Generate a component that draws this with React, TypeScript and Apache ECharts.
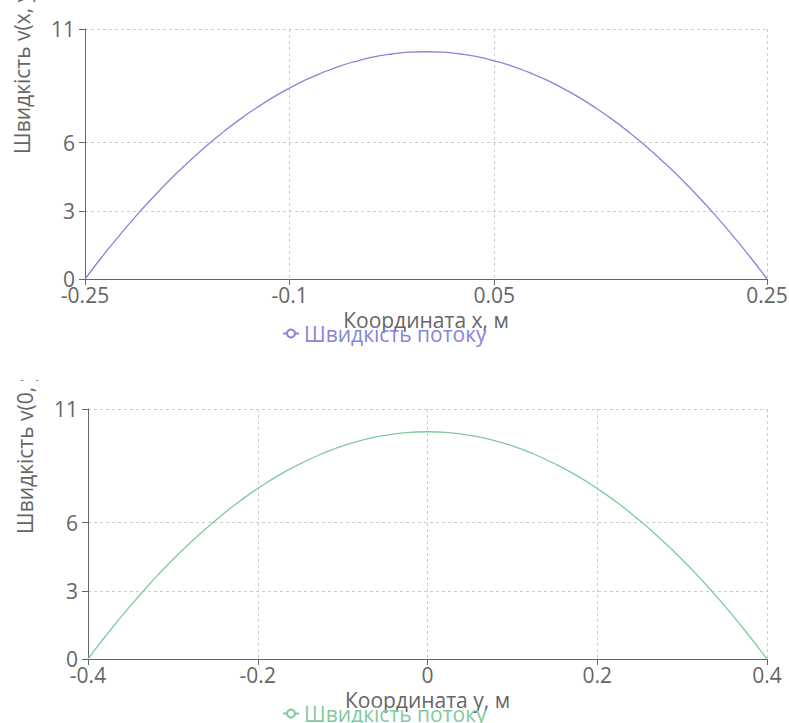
import React, { useEffect, useRef } from "react";
import * as echarts from "echarts";

// Top chart: velocity profile along x
const xCoords = [-0.25, -0.2375, -0.225, -0.2125, -0.2, -0.1875, -0.175, -0.1625, -0.15, -0.1375, -0.125, -0.1125, -0.1, -0.0875, -0.075, -0.0625, -0.05, -0.0375, -0.025, -0.0125, 0, 0.0125, 0.025, 0.0375, 0.05, 0.0625, 0.075, 0.0875, 0.1, 0.1125, 0.125, 0.1375, 0.15, 0.1625, 0.175, 0.1875, 0.2, 0.2125, 0.225, 0.2375, 0.25];
const velocityX = [0, 0.98, 1.9, 2.78, 3.6, 4.38, 5.1, 5.78, 6.4, 6.98, 7.5, 7.98, 8.4, 8.78, 9.1, 9.38, 9.6, 9.78, 9.9, 9.98, 10, 9.98, 9.9, 9.78, 9.6, 9.38, 9.1, 8.78, 8.4, 7.98, 7.5, 6.98, 6.4, 5.78, 5.1, 4.38, 3.6, 2.78, 1.9, 0.98, 0];
const xTickValues = [-0.25, -0.1, 0.05, 0.25];

// Bottom chart: velocity profile along y
const yCoords = [-0.4, -0.375, -0.35, -0.325, -0.3, -0.275, -0.25, -0.225, -0.2, -0.175, -0.15, -0.125, -0.1, -0.075, -0.05, -0.025, 0, 0.025, 0.05, 0.075, 0.1, 0.125, 0.15, 0.175, 0.2, 0.225, 0.25, 0.275, 0.3, 0.325, 0.35, 0.375, 0.4];
const velocityY = [0, 1.21, 2.34, 3.4, 4.38, 5.27, 6.09, 6.84, 7.5, 8.09, 8.59, 9.02, 9.38, 9.65, 9.84, 9.96, 10, 9.96, 9.84, 9.65, 9.38, 9.02, 8.59, 8.09, 7.5, 6.84, 6.09, 5.27, 4.38, 3.4, 2.34, 1.21, 0];
const yTickValues = [-0.4, -0.2, 0, 0.2, 0.4];

const velocityTicks = [0, 3, 6, 11];

const seriesName = "Швидкість потоку";
const FONT = "'Open Sans', 'Noto Sans', sans-serif";
const GREY = "#666";
const FS = 21;

interface ChartCfg {
  xs: number[];
  vs: number[];
  xTicks: number[];
  xMin: number;
  xMax: number;
  xName: string;
  yName: string;
  color: string;
  gridLeft: number;
}

function buildOption(c: ChartCfg) {
  return {
    animation: false,
    textStyle: { fontFamily: FONT },
    grid: { left: c.gridLeft, right: 22, top: 29, height: 250, outerBoundsMode: "none", containLabel: false },
    legend: {
      data: [seriesName],
      left: 277,
      top: 318,
      itemWidth: 16,
      itemHeight: 10,
      itemGap: 6,
      textStyle: { color: c.color, fontSize: FS, fontFamily: FONT },
    },
    xAxis: {
      type: "value",
      min: c.xMin,
      max: c.xMax,
      name: c.xName,
      nameLocation: "middle",
      nameGap: 30,
      nameTextStyle: { color: GREY, fontSize: FS, fontFamily: FONT },
      axisLine: { show: true, onZero: false, lineStyle: { color: GREY, width: 1 } },
      axisTick: { show: true, length: 6, customValues: c.xTicks, lineStyle: { color: GREY } },
      axisLabel: { customValues: c.xTicks, color: GREY, fontSize: FS, margin: 5, fontFamily: FONT, showMinLabel: true, showMaxLabel: true },
      splitLine: { show: true, lineStyle: { color: "#ccc", type: [3, 3] } },
    },
    yAxis: {
      type: "value",
      min: 0,
      max: 11,
      name: c.yName,
      nameLocation: "middle",
      nameRotate: 90,
      nameGap: 53,
      nameTextStyle: { color: GREY, fontSize: FS, fontFamily: FONT, align: "left" },
      axisLine: { show: true, onZero: false, lineStyle: { color: GREY, width: 1 } },
      axisTick: { show: true, length: 6, customValues: velocityTicks, lineStyle: { color: GREY } },
      axisLabel: { customValues: velocityTicks, color: GREY, fontSize: FS, margin: 10, fontFamily: FONT },
      splitLine: { show: true, lineStyle: { color: "#ccc", type: [3, 3] } },
    },
    series: [
      {
        name: seriesName,
        type: "line",
        data: c.xs.map((x, i) => [x, c.vs[i]]),
        smooth: true,
        symbol: "emptyCircle",
        symbolSize: 6,
        showSymbol: false,
        lineStyle: { color: c.color, width: 1.3 },
        itemStyle: { color: c.color },
      },
    ],
  };
}

function Chart({ cfg, height }: { cfg: ChartCfg; height: number }) {
  const ref = useRef<HTMLDivElement>(null);
  useEffect(() => {
    if (!ref.current) return;
    const chart = echarts.init(ref.current, undefined, { renderer: "svg" });
    chart.setOption(buildOption(cfg) as any);
    return () => chart.dispose();
  }, [cfg]);
  return <div ref={ref} style={{ width: 789, height }} />;
}

const topCfg: ChartCfg = {
  xs: xCoords,
  vs: velocityX,
  xTicks: xTickValues,
  xMin: -0.25,
  xMax: 0.25,
  xName: "Координата x, м",
  yName: "Швидкість v(x, y), м/с",
  color: "#8884d8",
  gridLeft: 85,
};

const bottomCfg: ChartCfg = {
  xs: yCoords,
  vs: velocityY,
  xTicks: yTickValues,
  xMin: -0.4,
  xMax: 0.4,
  xName: "Координата y, м",
  yName: "Швидкість v(0, y), м/с",
  color: "#82ca9d",
  gridLeft: 88,
};

export default function App() {
  return (
    <div style={{ position: "absolute", left: 0, top: 0, width: 789, height: 723, overflow: "hidden", background: "#fff" }}>
      <div style={{ position: "absolute", left: 0, top: 0 }}>
        <Chart cfg={topCfg} height={360} />
      </div>
      <div style={{ position: "absolute", left: 0, top: 380 }}>
        <Chart cfg={bottomCfg} height={343} />
      </div>
    </div>
  );
}
